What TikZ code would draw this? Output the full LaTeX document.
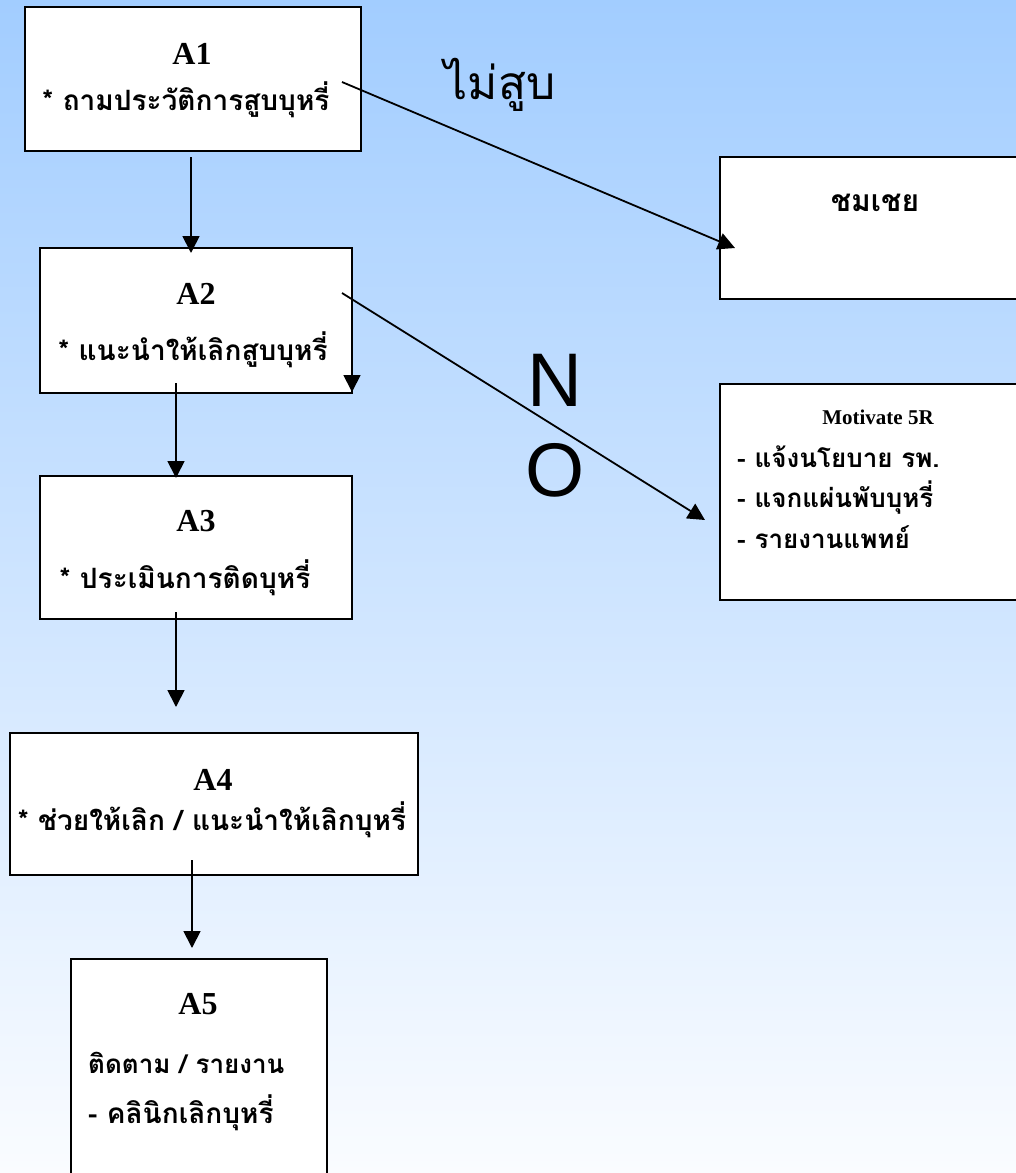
\documentclass[tikz,border=0pt]{standalone}
\usepackage{fontspec}
\setmainfont{Liberation Serif}
\newfontfamily\thai[Script=Thai]{Loma}
\newfontfamily\arial{Liberation Sans}
\usetikzlibrary{arrows.meta}
\definecolor{bgtop}{RGB}{162,205,255}
\definecolor{bgmid}{RGB}{206,228,252}
\definecolor{bgbot}{RGB}{250,252,255}
\tikzset{
  box/.style={draw=black, fill=white, line width=2pt, rectangle, inner sep=0pt},
  title/.style={font=\fontsize{32}{34}\selectfont\bfseries, inner sep=0pt},
  thline/.style={font=\fontsize{28}{32}\selectfont\thai\bfseries, inner sep=0pt},
  smline/.style={font=\fontsize{26}{30}\selectfont\thai\bfseries, inner sep=0pt},
  conn/.style={line width=1.8pt, -{Triangle[width=17pt,length=17pt]}},
}
\begin{document}
\begin{tikzpicture}[x=1pt,y=-1pt]
\useasboundingbox (0,0) rectangle (1016,1173);
\clip (0,0) rectangle (1016,1173);
\shade[top color=bgtop, middle color=bgmid, bottom color=bgbot] (0,0) rectangle (1016,1173);

% boxes
\node[box, minimum width=336pt, minimum height=144pt] (A1) at (193,79) {};
\node[box, minimum width=312pt, minimum height=145pt] (A2) at (196,320.5) {};
\node[box, minimum width=312pt, minimum height=143pt] (A3) at (196,547.5) {};
\node[box, minimum width=408pt, minimum height=142pt] (A4) at (214,804) {};
\node[box, minimum width=256pt, minimum height=231pt] (A5) at (199,1074.5) {};
\node[box, minimum width=310pt, minimum height=142pt] (CH) at (875,228) {};
\node[box, minimum width=310pt, minimum height=216pt] (MO) at (875,492) {};

% texts
\node[title] (t1) at (192,54) {A1};
\node[thline] (s1) at (186,100) {* ถามประวัติการสูบบุหรี่};
\node[title] (t2) at (196,294) {A2};
\node[thline] (s2) at (193,350) {* แนะนำให้เลิกสูบบุหรี่};
\node[title] (t3) at (196,521) {A3};
\node[thline] (s3) at (185,578) {* ประเมินการติดบุหรี่};
\node[title] (t4) at (213,780) {A4};
\node[thline] (s4) at (212,820) {* ช่วยให้เลิก / แนะนำให้เลิกบุหรี่};
\node[title] (t5) at (198,1004) {A5};
\node[thline, font=\fontsize{26}{30}\selectfont\thai\bfseries, anchor=west] (s5a) at (88,1063) {ติดตาม / รายงาน};
\node[thline, anchor=west] (s5b) at (88,1113) {- คลินิกเลิกบุหรี่};
\node[font=\fontsize{30}{34}\selectfont\thai\bfseries, inner sep=0pt] (ch) at (875,203) {ชมเชย};
\node[font=\fontsize{21}{24}\selectfont\bfseries, inner sep=0pt] (mt) at (878,417) {Motivate 5R};
\node[smline, anchor=west] (m1) at (737,457) {- แจ้งนโยบาย รพ.};
\node[smline, anchor=west] (m2) at (737,498) {- แจกแผ่นพับบุหรี่};
\node[smline, anchor=west] (m3) at (737,537) {- รายงานแพทย์};
\node[font=\fontsize{46}{50}\selectfont\thai, inner sep=0pt] (ms) at (500,85) {ไม่สูบ};
\node[font=\fontsize{76}{80}\selectfont\arial, inner sep=0pt] (N) at (555,380) {N};
\node[font=\fontsize{76}{80}\selectfont\arial, inner sep=0pt] (O) at (555,470) {O};

% connector endpoints
\coordinate (p1s) at (191,157);  \coordinate (p1e) at (191,253);
\coordinate (p2s) at (176,383);  \coordinate (p2e) at (176,478);
\coordinate (p3s) at (176,612);  \coordinate (p3e) at (176,707);
\coordinate (p4s) at (192,860);  \coordinate (p4e) at (192,948);
\coordinate (p5s) at (352,300);  \coordinate (p5e) at (352,392);
\coordinate (d1s) at (342,82);   \coordinate (d1e) at (735,248);
\coordinate (d2s) at (342,293);  \coordinate (d2e) at (705,520);

\draw[conn] (p1s) -- (p1e);
\draw[conn] (p2s) -- (p2e);
\draw[conn] (p3s) -- (p3e);
\draw[conn] (p4s) -- (p4e);
\draw[conn] (p5s) -- (p5e);
\draw[conn] (d1s) -- (d1e);
\draw[conn] (d2s) -- (d2e);
\end{tikzpicture}
\end{document}
